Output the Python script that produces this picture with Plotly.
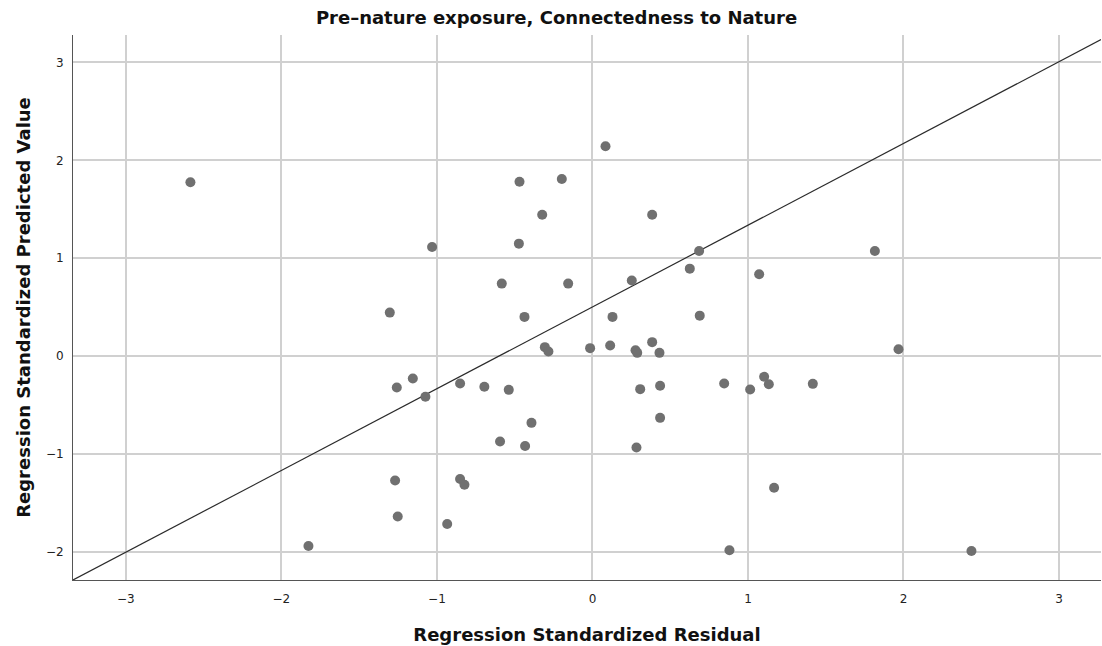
import plotly.graph_objects as go

residual = [-2.585, -1.826, -1.303, -1.258, -1.269, -1.252, -1.155, -1.074, -1.031, -0.934,
            -0.851, -0.851, -0.823, -0.695, -0.594, -0.583, -0.538, -0.473, -0.469, -0.437,
            -0.433, -0.392, -0.323, -0.306, -0.283, -0.197, -0.156, -0.015, 0.084, 0.114,
            0.129, 0.253, 0.277, 0.288, 0.283, 0.307, 0.384, 0.384, 0.431, 0.435,
            0.435, 0.626, 0.686, 0.690, 0.847, 0.881, 1.014, 1.072, 1.104, 1.134,
            1.168, 1.417, 1.816, 1.968, 2.437]
predicted = [1.776, -1.939, 0.445, -0.320, -1.269, -1.637, -0.228, -0.415, 1.115, -1.714,
             -0.279, -1.255, -1.313, -0.313, -0.871, 0.741, -0.344, 1.149, 1.782, 0.401,
             -0.918, -0.681, 1.445, 0.092, 0.047, 1.809, 0.741, 0.082, 2.143, 0.109,
             0.401, 0.772, 0.061, 0.034, -0.932, -0.337, 1.445, 0.143, 0.034, -0.303,
             -0.630, 0.894, 1.074, 0.414, -0.279, -1.983, -0.341, 0.837, -0.211, -0.286,
             -1.344, -0.283, 1.074, 0.071, -1.990]

x_range = [-3.34, 3.27]
y_range = [-2.286, 3.28]
ref_x = [x_range[0], x_range[1]]
ref_y = [y_range[0], y_range[0] + (y_range[1] - y_range[0]) * 0.9915]
tick_vals = [-3, -2, -1, 0, 1, 2, 3]
tick_text = ["\u22123", "\u22122", "\u22121", "0", "1", "2", "3"]

fig = go.Figure()
fig.add_trace(go.Scatter(x=ref_x, y=ref_y, mode="lines",
                         line=dict(color="#2b2b2b", width=1.2), hoverinfo="skip", showlegend=False))
fig.add_trace(go.Scatter(x=residual, y=predicted, mode="markers",
                         marker=dict(color="#707070", size=10, line=dict(width=0)),
                         showlegend=False))

font_family = "DejaVu Sans"
fig.update_layout(
    width=1102, height=646,
    margin=dict(l=73, r=1, t=35, b=66),
    paper_bgcolor="white", plot_bgcolor="white",
    title=dict(text="<b>Pre\u2013nature exposure, Connectedness to Nature</b>",
               x=0.505, xanchor="center", y=1 - 18 / 646, yanchor="middle",
               font=dict(family=font_family, size=18, color="#111")),
    font=dict(family=font_family, color="#222"),
)
fig.update_xaxes(range=x_range, tickvals=tick_vals, ticktext=tick_text,
                 showgrid=True, gridcolor="#d0d0d0", gridwidth=1.5, zeroline=False,
                 showline=True, linecolor="#555", linewidth=1, ticks="", ticklabelstandoff=8,
                 tickfont=dict(size=12, color="#222"),
                 title=dict(text="<b>Regression Standardized Residual</b>", standoff=22,
                            font=dict(family=font_family, size=18, color="#111")))
fig.update_yaxes(range=y_range, tickvals=tick_vals, ticktext=tick_text,
                 showgrid=True, gridcolor="#d0d0d0", gridwidth=1.5, zeroline=False,
                 showline=True, linecolor="#555", linewidth=1, ticks="", ticklabelstandoff=6,
                 tickfont=dict(size=12, color="#222"),
                 title=dict(text="<b>Regression Standardized Predicted Value</b>", standoff=10,
                            font=dict(family=font_family, size=18, color="#111")))

fig.write_html("out.html")
